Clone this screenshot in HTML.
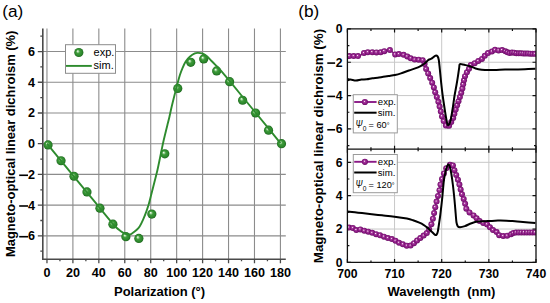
<!DOCTYPE html>
<html><head><meta charset="utf-8"><style>
html,body{margin:0;padding:0;background:#fff;}
body{width:550px;height:303px;overflow:hidden;font-family:"Liberation Sans",sans-serif;}
svg{display:block;}
</style></head><body>
<svg width="550" height="303" viewBox="0 0 550 303">
<defs>
<radialGradient id="gball" cx="0.5" cy="0.5" r="0.5" fx="0.36" fy="0.34">
 <stop offset="0" stop-color="#f4fbf2"/>
 <stop offset="0.16" stop-color="#b2dcae"/>
 <stop offset="0.4" stop-color="#3f9c3b"/>
 <stop offset="0.8" stop-color="#2b862b"/>
 <stop offset="1" stop-color="#1d641d"/>
</radialGradient>
<radialGradient id="pball" cx="0.5" cy="0.5" r="0.5" fx="0.4" fy="0.38">
 <stop offset="0" stop-color="#fdf4fb"/>
 <stop offset="0.1" stop-color="#eccbe6"/>
 <stop offset="0.3" stop-color="#a63a9c"/>
 <stop offset="0.7" stop-color="#8c1a86"/>
 <stop offset="1" stop-color="#680c62"/>
</radialGradient>
</defs>
<rect width="550" height="303" fill="#fff"/>
<path d="M46.96,28.5V259.2M72.90,28.5V259.2M98.84,28.5V259.2M124.78,28.5V259.2M150.72,28.5V259.2M176.66,28.5V259.2M202.60,28.5V259.2M228.54,28.5V259.2M254.48,28.5V259.2M280.42,28.5V259.2M42.8,235.86H285.8M42.8,205.14H285.8M42.8,174.42H285.8M42.8,143.70H285.8M42.8,112.98H285.8M42.8,82.26H285.8M42.8,51.54H285.8" stroke="#8c8c8c" stroke-width="1.1" fill="none"/>
<path d="M42.8,28.5V259.2H285.8" stroke="#4a4a4a" stroke-width="1.6" fill="none"/>
<path d="M40.30,251.22H42.8M37.80,235.86H42.8M40.30,220.50H42.8M37.80,205.14H42.8M40.30,189.78H42.8M37.80,174.42H42.8M40.30,159.06H42.8M37.80,143.70H42.8M40.30,128.34H42.8M37.80,112.98H42.8M40.30,97.62H42.8M37.80,82.26H42.8M40.30,66.90H42.8M37.80,51.54H42.8M40.30,36.18H42.8M46.96,259.2V263.20M59.93,259.2V261.20M72.90,259.2V263.20M85.87,259.2V261.20M98.84,259.2V263.20M111.81,259.2V261.20M124.78,259.2V263.20M137.75,259.2V261.20M150.72,259.2V263.20M163.69,259.2V261.20M176.66,259.2V263.20M189.63,259.2V261.20M202.60,259.2V263.20M215.57,259.2V261.20M228.54,259.2V263.20M241.51,259.2V261.20M254.48,259.2V263.20M267.45,259.2V261.20M280.42,259.2V263.20" stroke="#4a4a4a" stroke-width="1.3" fill="none"/>
<text x="35" y="240.36" font-family="Liberation Sans, sans-serif" font-size="12.6" font-weight="bold" text-anchor="end">6</text>
<rect x="19.2" y="235.91" width="8.8" height="1.6" fill="#000"/>
<text x="35" y="209.64" font-family="Liberation Sans, sans-serif" font-size="12.6" font-weight="bold" text-anchor="end">4</text>
<rect x="19.2" y="205.19" width="8.8" height="1.6" fill="#000"/>
<text x="35" y="178.92" font-family="Liberation Sans, sans-serif" font-size="12.6" font-weight="bold" text-anchor="end">2</text>
<rect x="19.2" y="174.47" width="8.8" height="1.6" fill="#000"/>
<text x="35" y="148.20" font-family="Liberation Sans, sans-serif" font-size="12.6" font-weight="bold" text-anchor="end">0</text>
<text x="35" y="117.48" font-family="Liberation Sans, sans-serif" font-size="12.6" font-weight="bold" text-anchor="end">2</text>
<text x="35" y="86.76" font-family="Liberation Sans, sans-serif" font-size="12.6" font-weight="bold" text-anchor="end">4</text>
<text x="35" y="56.04" font-family="Liberation Sans, sans-serif" font-size="12.6" font-weight="bold" text-anchor="end">6</text>
<text x="46.96" y="276.6" font-family="Liberation Sans, sans-serif" font-size="12.6" font-weight="bold" text-anchor="middle">0</text>
<text x="72.90" y="276.6" font-family="Liberation Sans, sans-serif" font-size="12.6" font-weight="bold" text-anchor="middle">20</text>
<text x="98.84" y="276.6" font-family="Liberation Sans, sans-serif" font-size="12.6" font-weight="bold" text-anchor="middle">40</text>
<text x="124.78" y="276.6" font-family="Liberation Sans, sans-serif" font-size="12.6" font-weight="bold" text-anchor="middle">60</text>
<text x="150.72" y="276.6" font-family="Liberation Sans, sans-serif" font-size="12.6" font-weight="bold" text-anchor="middle">80</text>
<text x="176.66" y="276.6" font-family="Liberation Sans, sans-serif" font-size="12.6" font-weight="bold" text-anchor="middle">100</text>
<text x="202.60" y="276.6" font-family="Liberation Sans, sans-serif" font-size="12.6" font-weight="bold" text-anchor="middle">120</text>
<text x="228.54" y="276.6" font-family="Liberation Sans, sans-serif" font-size="12.6" font-weight="bold" text-anchor="middle">140</text>
<text x="254.48" y="276.6" font-family="Liberation Sans, sans-serif" font-size="12.6" font-weight="bold" text-anchor="middle">160</text>
<text x="280.42" y="276.6" font-family="Liberation Sans, sans-serif" font-size="12.6" font-weight="bold" text-anchor="middle">180</text>
<text x="114" y="295.6" font-family="Liberation Sans, sans-serif" font-size="13" font-weight="bold">Polarization (°)</text>
<text transform="translate(15.1,143.8) rotate(-90)" x="0" y="0" font-family="Liberation Sans, sans-serif" font-size="12.95" font-weight="bold" text-anchor="middle">Magneto-optical linear dichroism (%)</text>
<text x="2.2" y="17.0" font-family="Liberation Sans, sans-serif" font-size="17.2">(a)</text>
<circle cx="48.06" cy="144.93" r="4.6" fill="url(#gball)"/>
<circle cx="61.03" cy="160.75" r="4.6" fill="url(#gball)"/>
<circle cx="74.00" cy="176.26" r="4.6" fill="url(#gball)"/>
<circle cx="86.97" cy="191.93" r="4.6" fill="url(#gball)"/>
<circle cx="99.94" cy="208.21" r="4.6" fill="url(#gball)"/>
<circle cx="112.91" cy="224.19" r="4.6" fill="url(#gball)"/>
<circle cx="125.88" cy="236.63" r="4.6" fill="url(#gball)"/>
<circle cx="138.85" cy="238.47" r="4.6" fill="url(#gball)"/>
<circle cx="151.82" cy="214.05" r="4.6" fill="url(#gball)"/>
<circle cx="164.79" cy="153.84" r="4.6" fill="url(#gball)"/>
<circle cx="177.76" cy="88.40" r="4.6" fill="url(#gball)"/>
<circle cx="190.73" cy="62.29" r="4.6" fill="url(#gball)"/>
<circle cx="203.70" cy="58.91" r="4.6" fill="url(#gball)"/>
<circle cx="216.67" cy="70.89" r="4.6" fill="url(#gball)"/>
<circle cx="229.64" cy="81.65" r="4.6" fill="url(#gball)"/>
<circle cx="242.61" cy="100.23" r="4.6" fill="url(#gball)"/>
<circle cx="255.58" cy="112.98" r="4.6" fill="url(#gball)"/>
<circle cx="268.55" cy="130.18" r="4.6" fill="url(#gball)"/>
<circle cx="281.52" cy="143.70" r="4.6" fill="url(#gball)"/>
<path d="M47.00,143.70 C49.33,146.55 56.33,155.12 61.00,160.80 C65.67,166.48 70.67,172.53 75.00,177.80 C79.33,183.07 82.92,187.43 87.00,192.40 C91.08,197.37 95.33,202.53 99.50,207.60 C103.67,212.67 109.25,219.52 112.00,222.80 C114.75,226.08 114.67,226.00 116.00,227.30 C117.33,228.60 118.52,229.55 120.00,230.60 C121.48,231.65 123.30,232.95 124.90,233.60 C126.50,234.25 128.37,234.57 129.60,234.50 C130.83,234.43 131.15,233.95 132.30,233.20 C133.45,232.45 135.25,231.17 136.50,230.00 C137.75,228.83 138.70,227.93 139.80,226.20 C140.90,224.47 142.00,222.08 143.10,219.60 C144.20,217.12 145.45,213.90 146.40,211.30 C147.35,208.70 148.03,206.63 148.80,204.00 C149.57,201.37 150.10,199.00 151.00,195.50 C151.90,192.00 153.13,187.22 154.20,183.00 C155.27,178.78 156.50,174.07 157.40,170.20 C158.30,166.33 158.90,163.17 159.60,159.80 C160.30,156.43 160.98,152.97 161.60,150.00 C162.22,147.03 162.70,144.67 163.30,142.00 C163.90,139.33 164.53,136.77 165.20,134.00 C165.87,131.23 166.60,128.23 167.30,125.40 C168.00,122.57 168.68,120.07 169.40,117.00 C170.12,113.93 170.78,110.50 171.60,107.00 C172.42,103.50 173.33,99.83 174.30,96.00 C175.27,92.17 176.47,87.50 177.40,84.00 C178.33,80.50 179.07,77.62 179.90,75.00 C180.73,72.38 181.43,70.55 182.40,68.30 C183.37,66.05 184.47,63.42 185.70,61.50 C186.93,59.58 188.28,58.15 189.80,56.80 C191.32,55.45 193.42,54.05 194.80,53.40 C196.18,52.75 196.87,52.90 198.10,52.90 C199.33,52.90 200.83,52.92 202.20,53.40 C203.57,53.88 204.78,54.58 206.30,55.80 C207.82,57.02 209.78,59.20 211.30,60.70 C212.82,62.20 213.95,63.32 215.40,64.80 C216.85,66.28 217.43,66.67 220.00,69.60 C222.57,72.53 227.02,77.83 230.80,82.40 C234.58,86.97 238.52,91.90 242.70,97.00 C246.88,102.10 251.60,107.77 255.90,113.00 C260.20,118.23 264.42,123.37 268.50,128.40 C272.58,133.43 278.42,140.73 280.40,143.20" stroke="#2e8b2e" stroke-width="1.9" fill="none" stroke-linejoin="round"/>
<rect x="65.5" y="44.7" width="50" height="28.6" fill="#fff" stroke="#8c8c8c" stroke-width="1"/>
<circle cx="78.8" cy="52.5" r="4.6" fill="url(#gball)"/>
<path d="M66,65.9H91.8" stroke="#2e8b2e" stroke-width="1.9"/>
<text x="93.6" y="56.2" font-family="Liberation Sans, sans-serif" font-size="11">exp.</text>
<text x="93.6" y="69.2" font-family="Liberation Sans, sans-serif" font-size="11">sim.</text>
<path d="M394.55,28.9V262.4M441.70,28.9V262.4M488.85,28.9V262.4M347.4,62.24H536.0M347.4,95.58H536.0M347.4,128.92H536.0M347.4,229.04H536.0M347.4,195.68H536.0M347.4,162.32H536.0" stroke="#c8c8c8" stroke-width="1" fill="none"/>
<path d="M347.4,28.90h3.5M536.0,28.90h-3.5M347.4,45.57h2M536.0,45.57h-2M347.4,62.24h3.5M536.0,62.24h-3.5M347.4,78.91h2M536.0,78.91h-2M347.4,95.58h3.5M536.0,95.58h-3.5M347.4,112.25h2M536.0,112.25h-2M347.4,128.92h3.5M536.0,128.92h-3.5M347.4,145.59h2M536.0,145.59h-2M347.4,262.40h3.5M536.0,262.40h-3.5M347.4,245.72h2M536.0,245.72h-2M347.4,229.04h3.5M536.0,229.04h-3.5M347.4,212.36h2M536.0,212.36h-2M347.4,195.68h3.5M536.0,195.68h-3.5M347.4,179.00h2M536.0,179.00h-2M347.4,162.32h3.5M536.0,162.32h-3.5M347.40,28.9v3.5M347.40,149.2v-3.5M347.40,149.2v3.5M347.40,262.4v-3.5M370.97,28.9v2M370.97,149.2v-2M370.97,149.2v2M370.97,262.4v-2M394.55,28.9v3.5M394.55,149.2v-3.5M394.55,149.2v3.5M394.55,262.4v-3.5M418.12,28.9v2M418.12,149.2v-2M418.12,149.2v2M418.12,262.4v-2M441.70,28.9v3.5M441.70,149.2v-3.5M441.70,149.2v3.5M441.70,262.4v-3.5M465.27,28.9v2M465.27,149.2v-2M465.27,149.2v2M465.27,262.4v-2M488.85,28.9v3.5M488.85,149.2v-3.5M488.85,149.2v3.5M488.85,262.4v-3.5M512.42,28.9v2M512.42,149.2v-2M512.42,149.2v2M512.42,262.4v-2M536.00,28.9v3.5M536.00,149.2v-3.5M536.00,149.2v3.5M536.00,262.4v-3.5" stroke="#111" stroke-width="1.2" fill="none"/>
<clipPath id="cT"><rect x="347.4" y="28.9" width="188.6" height="120.3"/></clipPath>
<clipPath id="cB"><rect x="347.4" y="149.2" width="188.6" height="113.2"/></clipPath>
<g clip-path="url(#cT)">
<path d="M349.80,56.10 C351.17,56.10 356.05,56.35 358.00,56.10 C359.95,55.85 360.48,55.12 361.50,54.60 C362.52,54.08 362.98,53.43 364.10,53.00 C365.22,52.57 366.10,52.12 368.20,52.00 C370.30,51.88 374.53,52.22 376.70,52.30 C378.87,52.38 379.88,52.67 381.20,52.50 C382.52,52.33 383.10,51.70 384.60,51.30 C386.10,50.90 388.83,49.92 390.20,50.10 C391.57,50.28 392.00,51.70 392.80,52.40 C393.60,53.10 393.95,54.02 395.00,54.30 C396.05,54.58 397.57,53.98 399.10,54.10 C400.63,54.22 402.80,54.57 404.20,55.00 C405.60,55.43 406.43,56.13 407.50,56.70 C408.57,57.27 409.42,57.92 410.60,58.40 C411.78,58.88 413.25,59.38 414.60,59.60 C415.95,59.82 417.35,59.58 418.70,59.70 C420.05,59.82 421.72,59.55 422.70,60.30 C423.68,61.05 424.00,62.68 424.60,64.20 C425.20,65.72 425.65,67.73 426.30,69.40 C426.95,71.07 427.75,72.52 428.50,74.20 C429.25,75.88 430.02,77.70 430.80,79.50 C431.58,81.30 432.50,82.98 433.20,85.00 C433.90,87.02 434.42,89.67 435.00,91.60 C435.58,93.53 436.15,94.95 436.70,96.60 C437.25,98.25 437.82,99.85 438.30,101.50 C438.78,103.15 439.18,104.85 439.60,106.50 C440.02,108.15 440.33,109.48 440.80,111.40 C441.27,113.32 441.85,116.22 442.40,118.00 C442.95,119.78 443.40,120.60 444.10,122.10 C444.80,123.60 445.92,126.12 446.60,127.00 C447.28,127.88 447.52,128.07 448.20,127.40 C448.88,126.73 449.87,124.57 450.70,123.00 C451.53,121.43 452.52,119.80 453.20,118.00 C453.88,116.20 454.12,114.40 454.80,112.20 C455.48,110.00 456.62,106.85 457.30,104.80 C457.98,102.75 458.35,101.55 458.90,99.90 C459.45,98.25 460.05,96.63 460.60,94.90 C461.15,93.17 461.70,91.65 462.20,89.50 C462.70,87.35 463.17,84.15 463.60,82.00 C464.03,79.85 464.28,78.15 464.80,76.60 C465.32,75.05 466.05,73.90 466.70,72.70 C467.35,71.50 468.03,70.68 468.70,69.40 C469.37,68.12 469.70,66.03 470.70,65.00 C471.70,63.97 473.38,63.90 474.70,63.20 C476.02,62.50 477.28,61.58 478.60,60.80 C479.92,60.02 481.63,59.27 482.60,58.50 C483.57,57.73 483.60,57.07 484.40,56.20 C485.20,55.33 486.35,53.97 487.40,53.30 C488.45,52.63 489.47,52.78 490.70,52.20 C491.93,51.62 493.43,50.08 494.80,49.80 C496.17,49.52 497.52,50.47 498.90,50.50 C500.28,50.53 501.85,49.78 503.10,50.00 C504.35,50.22 505.30,51.28 506.40,51.80 C507.50,52.32 508.60,53.02 509.70,53.10 C510.80,53.18 511.92,52.28 513.00,52.30 C514.08,52.32 514.70,53.02 516.20,53.20 C517.70,53.38 519.87,53.33 522.00,53.40 C524.13,53.47 526.58,53.52 529.00,53.60 C531.42,53.68 535.25,53.85 536.50,53.90" stroke="#8a1a86" stroke-width="1.4" fill="none"/>
<circle cx="349.40" cy="56.10" r="3.0" fill="url(#pball)"/>
<circle cx="353.70" cy="56.10" r="3.0" fill="url(#pball)"/>
<circle cx="358.00" cy="56.10" r="3.0" fill="url(#pball)"/>
<circle cx="364.00" cy="53.00" r="3.0" fill="url(#pball)"/>
<circle cx="367.80" cy="52.20" r="3.0" fill="url(#pball)"/>
<circle cx="372.30" cy="52.20" r="3.0" fill="url(#pball)"/>
<circle cx="376.50" cy="52.40" r="3.0" fill="url(#pball)"/>
<circle cx="380.70" cy="52.30" r="3.0" fill="url(#pball)"/>
<circle cx="384.30" cy="51.20" r="3.0" fill="url(#pball)"/>
<circle cx="389.90" cy="50.00" r="3.0" fill="url(#pball)"/>
<circle cx="395.20" cy="54.50" r="3.0" fill="url(#pball)"/>
<circle cx="398.90" cy="54.10" r="3.0" fill="url(#pball)"/>
<circle cx="403.60" cy="54.80" r="3.0" fill="url(#pball)"/>
<circle cx="407.30" cy="56.50" r="3.0" fill="url(#pball)"/>
<circle cx="410.70" cy="58.30" r="3.0" fill="url(#pball)"/>
<circle cx="414.60" cy="59.60" r="3.0" fill="url(#pball)"/>
<circle cx="418.70" cy="59.70" r="3.0" fill="url(#pball)"/>
<circle cx="422.70" cy="60.30" r="3.0" fill="url(#pball)"/>
<circle cx="424.56" cy="64.11" r="3.0" fill="url(#pball)"/>
<circle cx="426.13" cy="68.88" r="3.0" fill="url(#pball)"/>
<circle cx="428.16" cy="73.47" r="3.0" fill="url(#pball)"/>
<circle cx="430.18" cy="78.07" r="3.0" fill="url(#pball)"/>
<circle cx="432.18" cy="82.66" r="3.0" fill="url(#pball)"/>
<circle cx="433.85" cy="87.38" r="3.0" fill="url(#pball)"/>
<circle cx="435.21" cy="92.22" r="3.0" fill="url(#pball)"/>
<circle cx="436.82" cy="96.98" r="3.0" fill="url(#pball)"/>
<circle cx="438.36" cy="101.74" r="3.0" fill="url(#pball)"/>
<circle cx="439.62" cy="106.60" r="3.0" fill="url(#pball)"/>
<circle cx="440.82" cy="111.50" r="3.0" fill="url(#pball)"/>
<circle cx="442.01" cy="116.39" r="3.0" fill="url(#pball)"/>
<circle cx="443.69" cy="121.12" r="3.0" fill="url(#pball)"/>
<circle cx="445.90" cy="125.62" r="3.0" fill="url(#pball)"/>
<circle cx="449.09" cy="125.83" r="3.0" fill="url(#pball)"/>
<circle cx="451.22" cy="121.96" r="3.0" fill="url(#pball)"/>
<circle cx="453.20" cy="118.00" r="3.0" fill="url(#pball)"/>
<circle cx="454.37" cy="113.75" r="3.0" fill="url(#pball)"/>
<circle cx="455.70" cy="109.54" r="3.0" fill="url(#pball)"/>
<circle cx="457.11" cy="105.37" r="3.0" fill="url(#pball)"/>
<circle cx="458.48" cy="101.18" r="3.0" fill="url(#pball)"/>
<circle cx="459.89" cy="97.00" r="3.0" fill="url(#pball)"/>
<circle cx="461.23" cy="92.78" r="3.0" fill="url(#pball)"/>
<circle cx="462.38" cy="88.51" r="3.0" fill="url(#pball)"/>
<circle cx="463.16" cy="84.37" r="3.0" fill="url(#pball)"/>
<circle cx="463.99" cy="80.23" r="3.0" fill="url(#pball)"/>
<circle cx="465.02" cy="76.15" r="3.0" fill="url(#pball)"/>
<circle cx="466.91" cy="72.36" r="3.0" fill="url(#pball)"/>
<circle cx="469.01" cy="68.71" r="3.0" fill="url(#pball)"/>
<circle cx="470.84" cy="64.94" r="3.0" fill="url(#pball)"/>
<circle cx="474.70" cy="63.20" r="3.0" fill="url(#pball)"/>
<circle cx="478.30" cy="60.98" r="3.0" fill="url(#pball)"/>
<circle cx="481.95" cy="58.88" r="3.0" fill="url(#pball)"/>
<circle cx="484.80" cy="55.82" r="3.0" fill="url(#pball)"/>
<circle cx="487.97" cy="53.11" r="3.0" fill="url(#pball)"/>
<circle cx="491.87" cy="51.52" r="3.0" fill="url(#pball)"/>
<circle cx="495.00" cy="49.83" r="3.0" fill="url(#pball)"/>
<circle cx="498.55" cy="50.44" r="3.0" fill="url(#pball)"/>
<circle cx="502.15" cy="50.11" r="3.0" fill="url(#pball)"/>
<circle cx="505.43" cy="51.27" r="3.0" fill="url(#pball)"/>
<circle cx="507.53" cy="52.25" r="3.0" fill="url(#pball)"/>
<circle cx="509.70" cy="53.10" r="3.0" fill="url(#pball)"/>
<circle cx="511.97" cy="52.55" r="3.0" fill="url(#pball)"/>
<circle cx="514.21" cy="52.64" r="3.0" fill="url(#pball)"/>
<circle cx="516.45" cy="53.21" r="3.0" fill="url(#pball)"/>
<circle cx="518.75" cy="53.29" r="3.0" fill="url(#pball)"/>
<circle cx="521.05" cy="53.37" r="3.0" fill="url(#pball)"/>
<circle cx="523.35" cy="53.44" r="3.0" fill="url(#pball)"/>
<circle cx="525.65" cy="53.50" r="3.0" fill="url(#pball)"/>
<circle cx="527.95" cy="53.57" r="3.0" fill="url(#pball)"/>
<circle cx="530.25" cy="53.65" r="3.0" fill="url(#pball)"/>
<circle cx="532.55" cy="53.74" r="3.0" fill="url(#pball)"/>
<circle cx="534.85" cy="53.83" r="3.0" fill="url(#pball)"/>
<path d="M347.70,80.20 C348.17,80.08 349.13,79.45 350.50,79.50 C351.87,79.55 354.08,80.48 355.90,80.50 C357.72,80.52 359.58,79.80 361.40,79.60 C363.22,79.40 364.98,79.53 366.80,79.30 C368.62,79.07 370.48,78.47 372.30,78.20 C374.12,77.93 375.88,77.93 377.70,77.70 C379.52,77.47 381.38,77.08 383.20,76.80 C385.02,76.52 386.63,76.30 388.60,76.00 C390.57,75.70 392.93,75.43 395.00,75.00 C397.07,74.57 398.68,74.15 401.00,73.40 C403.32,72.65 406.05,71.52 408.90,70.50 C411.75,69.48 415.60,68.38 418.10,67.30 C420.60,66.22 422.17,65.23 423.90,64.00 C425.63,62.77 427.23,60.78 428.50,59.90 C429.77,59.02 430.32,59.42 431.50,58.70 C432.68,57.98 434.58,55.98 435.60,55.60 C436.62,55.22 437.07,55.67 437.60,56.40 C438.13,57.13 438.43,57.90 438.80,60.00 C439.17,62.10 439.40,65.17 439.80,69.00 C440.20,72.83 440.73,78.67 441.20,83.00 C441.67,87.33 442.00,90.53 442.60,95.00 C443.20,99.47 444.13,105.55 444.80,109.80 C445.47,114.05 446.08,117.90 446.60,120.50 C447.12,123.10 447.28,125.23 447.90,125.40 C448.52,125.57 449.53,124.15 450.30,121.50 C451.07,118.85 451.80,113.75 452.50,109.50 C453.20,105.25 453.83,100.08 454.50,96.00 C455.17,91.92 455.92,88.37 456.50,85.00 C457.08,81.63 457.55,78.70 458.00,75.80 C458.45,72.90 458.92,69.50 459.20,67.60 C459.48,65.70 459.28,64.97 459.70,64.40 C460.12,63.83 460.72,64.08 461.70,64.20 C462.68,64.32 464.22,64.77 465.60,65.10 C466.98,65.43 468.33,65.63 470.00,66.20 C471.67,66.77 473.67,67.92 475.60,68.50 C477.53,69.08 479.28,69.43 481.60,69.70 C483.92,69.97 487.02,70.07 489.50,70.10 C491.98,70.13 493.92,69.98 496.50,69.90 C499.08,69.82 502.25,69.65 505.00,69.60 C507.75,69.55 509.67,69.67 513.00,69.60 C516.33,69.53 521.27,69.35 525.00,69.20 C528.73,69.05 533.67,68.78 535.40,68.70" stroke="#000" stroke-width="2" fill="none" stroke-linejoin="round"/>
</g>
<g clip-path="url(#cB)">
<path d="M349.00,227.60 C349.48,227.55 350.75,226.88 351.90,227.30 C353.05,227.72 354.57,229.77 355.90,230.10 C357.23,230.43 358.58,229.22 359.90,229.30 C361.22,229.38 362.15,230.15 363.80,230.60 C365.45,231.05 368.15,231.55 369.80,232.00 C371.45,232.45 372.38,232.85 373.70,233.30 C375.02,233.75 376.38,234.28 377.70,234.70 C379.02,235.12 380.28,235.38 381.60,235.80 C382.92,236.22 384.27,236.72 385.60,237.20 C386.93,237.68 388.28,238.35 389.60,238.70 C390.92,239.05 392.18,238.73 393.50,239.30 C394.82,239.87 396.18,241.35 397.50,242.10 C398.82,242.85 400.08,243.27 401.40,243.80 C402.72,244.33 404.07,244.87 405.40,245.30 C406.73,245.73 408.13,246.62 409.40,246.40 C410.67,246.18 411.73,244.97 413.00,244.00 C414.27,243.03 415.67,241.68 417.00,240.60 C418.33,239.52 419.75,238.43 421.00,237.50 C422.25,236.57 423.42,235.87 424.50,235.00 C425.58,234.13 426.58,233.42 427.50,232.30 C428.42,231.18 429.33,229.68 430.00,228.30 C430.67,226.92 431.03,225.55 431.50,224.00 C431.97,222.45 432.38,220.75 432.80,219.00 C433.22,217.25 433.58,215.50 434.00,213.50 C434.42,211.50 434.85,209.08 435.30,207.00 C435.75,204.92 436.23,202.92 436.70,201.00 C437.17,199.08 437.63,197.28 438.10,195.50 C438.57,193.72 439.08,192.22 439.50,190.30 C439.92,188.38 440.22,185.80 440.60,184.00 C440.98,182.20 441.38,180.92 441.80,179.50 C442.22,178.08 442.62,176.83 443.10,175.50 C443.58,174.17 444.17,172.75 444.70,171.50 C445.23,170.25 445.55,169.03 446.30,168.00 C447.05,166.97 448.20,166.08 449.20,165.30 C450.20,164.52 451.57,162.93 452.30,163.30 C453.03,163.67 453.17,166.08 453.60,167.50 C454.03,168.92 454.37,170.33 454.90,171.80 C455.43,173.27 456.23,174.82 456.80,176.30 C457.37,177.78 457.85,179.28 458.30,180.70 C458.75,182.12 459.12,183.38 459.50,184.80 C459.88,186.22 460.12,187.37 460.60,189.20 C461.08,191.03 461.82,194.02 462.40,195.80 C462.98,197.58 463.63,198.53 464.10,199.90 C464.57,201.27 464.83,202.55 465.20,204.00 C465.57,205.45 465.85,207.43 466.30,208.60 C466.75,209.77 467.30,210.30 467.90,211.00 C468.50,211.70 469.17,212.23 469.90,212.80 C470.63,213.37 471.48,213.80 472.30,214.40 C473.12,215.00 473.97,215.65 474.80,216.40 C475.63,217.15 476.47,218.08 477.30,218.90 C478.13,219.72 478.98,220.68 479.80,221.30 C480.62,221.92 481.38,222.27 482.20,222.60 C483.02,222.93 483.78,222.95 484.70,223.30 C485.62,223.65 486.87,224.08 487.70,224.70 C488.53,225.32 489.05,226.25 489.70,227.00 C490.35,227.75 490.87,228.60 491.60,229.20 C492.33,229.80 493.18,230.08 494.10,230.60 C495.02,231.12 496.23,231.52 497.10,232.30 C497.97,233.08 498.00,234.63 499.30,235.30 C500.60,235.97 503.15,236.35 504.90,236.30 C506.65,236.25 508.30,235.62 509.80,235.00 C511.30,234.38 512.20,233.03 513.90,232.60 C515.60,232.17 517.65,232.43 520.00,232.40 C522.35,232.37 525.25,232.40 528.00,232.40 C530.75,232.40 535.08,232.40 536.50,232.40" stroke="#8a1a86" stroke-width="1.4" fill="none"/>
<circle cx="349.00" cy="227.60" r="3.0" fill="url(#pball)"/>
<circle cx="352.89" cy="227.99" r="3.0" fill="url(#pball)"/>
<circle cx="356.34" cy="230.01" r="3.0" fill="url(#pball)"/>
<circle cx="360.38" cy="229.46" r="3.0" fill="url(#pball)"/>
<circle cx="364.29" cy="230.71" r="3.0" fill="url(#pball)"/>
<circle cx="368.29" cy="231.65" r="3.0" fill="url(#pball)"/>
<circle cx="372.23" cy="232.81" r="3.0" fill="url(#pball)"/>
<circle cx="376.13" cy="234.15" r="3.0" fill="url(#pball)"/>
<circle cx="380.06" cy="235.37" r="3.0" fill="url(#pball)"/>
<circle cx="383.98" cy="236.63" r="3.0" fill="url(#pball)"/>
<circle cx="387.86" cy="238.05" r="3.0" fill="url(#pball)"/>
<circle cx="391.85" cy="239.05" r="3.0" fill="url(#pball)"/>
<circle cx="395.52" cy="240.71" r="3.0" fill="url(#pball)"/>
<circle cx="399.06" cy="242.78" r="3.0" fill="url(#pball)"/>
<circle cx="402.86" cy="244.35" r="3.0" fill="url(#pball)"/>
<circle cx="406.77" cy="245.68" r="3.0" fill="url(#pball)"/>
<circle cx="410.57" cy="245.62" r="3.0" fill="url(#pball)"/>
<circle cx="413.92" cy="243.22" r="3.0" fill="url(#pball)"/>
<circle cx="417.08" cy="240.54" r="3.0" fill="url(#pball)"/>
<circle cx="420.33" cy="238.02" r="3.0" fill="url(#pball)"/>
<circle cx="423.65" cy="235.61" r="3.0" fill="url(#pball)"/>
<circle cx="426.79" cy="232.94" r="3.0" fill="url(#pball)"/>
<circle cx="429.18" cy="229.62" r="3.0" fill="url(#pball)"/>
<circle cx="431.40" cy="224.28" r="3.0" fill="url(#pball)"/>
<circle cx="432.88" cy="218.66" r="3.0" fill="url(#pball)"/>
<circle cx="434.11" cy="212.96" r="3.0" fill="url(#pball)"/>
<circle cx="435.25" cy="207.25" r="3.0" fill="url(#pball)"/>
<circle cx="436.56" cy="201.59" r="3.0" fill="url(#pball)"/>
<circle cx="437.99" cy="195.94" r="3.0" fill="url(#pball)"/>
<circle cx="439.50" cy="190.30" r="3.0" fill="url(#pball)"/>
<circle cx="440.50" cy="184.55" r="3.0" fill="url(#pball)"/>
<circle cx="441.99" cy="178.93" r="3.0" fill="url(#pball)"/>
<circle cx="443.92" cy="173.45" r="3.0" fill="url(#pball)"/>
<circle cx="446.24" cy="168.14" r="3.0" fill="url(#pball)"/>
<circle cx="449.96" cy="164.81" r="3.0" fill="url(#pball)"/>
<circle cx="452.96" cy="165.42" r="3.0" fill="url(#pball)"/>
<circle cx="454.43" cy="170.25" r="3.0" fill="url(#pball)"/>
<circle cx="456.23" cy="174.95" r="3.0" fill="url(#pball)"/>
<circle cx="457.96" cy="179.70" r="3.0" fill="url(#pball)"/>
<circle cx="459.42" cy="184.51" r="3.0" fill="url(#pball)"/>
<circle cx="460.65" cy="189.39" r="3.0" fill="url(#pball)"/>
<circle cx="461.98" cy="194.25" r="3.0" fill="url(#pball)"/>
<circle cx="463.71" cy="198.97" r="3.0" fill="url(#pball)"/>
<circle cx="465.13" cy="203.76" r="3.0" fill="url(#pball)"/>
<circle cx="466.33" cy="208.64" r="3.0" fill="url(#pball)"/>
<circle cx="469.52" cy="212.46" r="3.0" fill="url(#pball)"/>
<circle cx="473.59" cy="215.43" r="3.0" fill="url(#pball)"/>
<circle cx="476.62" cy="218.22" r="3.0" fill="url(#pball)"/>
<circle cx="479.58" cy="221.09" r="3.0" fill="url(#pball)"/>
<circle cx="483.28" cy="222.90" r="3.0" fill="url(#pball)"/>
<circle cx="487.11" cy="224.42" r="3.0" fill="url(#pball)"/>
<circle cx="489.96" cy="227.30" r="3.0" fill="url(#pball)"/>
<circle cx="493.00" cy="229.99" r="3.0" fill="url(#pball)"/>
<circle cx="496.61" cy="232.03" r="3.0" fill="url(#pball)"/>
<circle cx="499.21" cy="235.18" r="3.0" fill="url(#pball)"/>
<circle cx="503.22" cy="236.00" r="3.0" fill="url(#pball)"/>
<circle cx="507.23" cy="235.68" r="3.0" fill="url(#pball)"/>
<circle cx="511.05" cy="234.27" r="3.0" fill="url(#pball)"/>
<circle cx="513.38" cy="232.90" r="3.0" fill="url(#pball)"/>
<circle cx="516.00" cy="232.53" r="3.0" fill="url(#pball)"/>
<circle cx="518.70" cy="232.44" r="3.0" fill="url(#pball)"/>
<circle cx="521.40" cy="232.40" r="3.0" fill="url(#pball)"/>
<circle cx="524.10" cy="232.40" r="3.0" fill="url(#pball)"/>
<circle cx="526.85" cy="232.40" r="3.0" fill="url(#pball)"/>
<circle cx="529.60" cy="232.40" r="3.0" fill="url(#pball)"/>
<circle cx="532.35" cy="232.40" r="3.0" fill="url(#pball)"/>
<circle cx="535.10" cy="232.40" r="3.0" fill="url(#pball)"/>
<path d="M347.40,211.40 C348.65,211.55 352.47,212.02 354.90,212.30 C357.33,212.58 359.52,212.82 362.00,213.10 C364.48,213.38 366.47,213.63 369.80,214.00 C373.13,214.37 377.88,214.85 382.00,215.30 C386.12,215.75 390.35,216.15 394.50,216.70 C398.65,217.25 403.82,218.02 406.90,218.60 C409.98,219.18 410.93,219.52 413.00,220.20 C415.07,220.88 417.55,221.93 419.30,222.70 C421.05,223.47 422.27,224.07 423.50,224.80 C424.73,225.53 425.72,226.33 426.70,227.10 C427.68,227.87 428.58,228.65 429.40,229.40 C430.22,230.15 430.90,230.90 431.60,231.60 C432.30,232.30 432.98,233.03 433.60,233.60 C434.22,234.17 434.80,234.83 435.30,235.00 C435.80,235.17 436.18,235.17 436.60,234.60 C437.02,234.03 437.40,233.37 437.80,231.60 C438.20,229.83 438.58,226.80 439.00,224.00 C439.42,221.20 439.75,219.23 440.30,214.80 C440.85,210.37 441.72,203.03 442.30,197.40 C442.88,191.77 443.25,185.32 443.80,181.00 C444.35,176.68 445.03,174.00 445.60,171.50 C446.17,169.00 446.73,167.18 447.20,166.00 C447.67,164.82 448.00,164.40 448.40,164.40 C448.80,164.40 449.13,164.57 449.60,166.00 C450.07,167.43 450.65,169.83 451.20,173.00 C451.75,176.17 452.35,180.50 452.90,185.00 C453.45,189.50 454.03,195.17 454.50,200.00 C454.97,204.83 455.37,210.25 455.70,214.00 C456.03,217.75 456.15,220.45 456.50,222.50 C456.85,224.55 457.22,225.52 457.80,226.30 C458.38,227.08 458.82,227.23 460.00,227.20 C461.18,227.17 462.98,226.77 464.90,226.10 C466.82,225.43 469.30,223.97 471.50,223.20 C473.70,222.43 475.35,221.85 478.10,221.50 C480.85,221.15 484.70,221.25 488.00,221.10 C491.30,220.95 494.82,220.67 497.90,220.60 C500.98,220.53 503.65,220.58 506.50,220.70 C509.35,220.82 512.25,221.10 515.00,221.30 C517.75,221.50 519.60,221.60 523.00,221.90 C526.40,222.20 533.33,222.90 535.40,223.10" stroke="#000" stroke-width="2" fill="none" stroke-linejoin="round"/>
</g>
<path d="M347.4,28.9H536.0V262.4H347.4Z M347.4,149.2H536.0" stroke="#111" stroke-width="1.3" fill="none"/>
<rect x="353.3" y="94.70" width="44" height="38.20" fill="#fff" stroke="#9a9a9a" stroke-width="1"/>
<path d="M354.2,102.00H376.6" stroke="#8a1a86" stroke-width="1.9"/>
<circle cx="364.9" cy="102.00" r="3.1" fill="url(#pball)"/>
<text x="377.8" y="104.80" font-family="Liberation Sans, sans-serif" font-size="9.6">exp.</text>
<path d="M354.2,112.70H376.6" stroke="#000" stroke-width="2"/>
<text x="377.8" y="115.80" font-family="Liberation Sans, sans-serif" font-size="9.6">sim.</text>
<text x="355.4" y="128.30" font-family="Liberation Sans, sans-serif" font-size="9.2"><tspan font-style="italic" font-size="10.8" textLength="7.0" lengthAdjust="spacingAndGlyphs">Ψ</tspan><tspan font-size="6.6" dx="0.3" dy="2.4">0</tspan><tspan dy="-2.4" dx="-0.4"> = 60</tspan><tspan font-size="7" dy="-0.6">°</tspan></text>
<rect x="353.3" y="154.50" width="44" height="38.20" fill="#fff" stroke="#9a9a9a" stroke-width="1"/>
<path d="M354.2,161.80H376.6" stroke="#8a1a86" stroke-width="1.9"/>
<circle cx="364.9" cy="161.80" r="3.1" fill="url(#pball)"/>
<text x="377.8" y="164.60" font-family="Liberation Sans, sans-serif" font-size="9.6">exp.</text>
<path d="M354.2,172.50H376.6" stroke="#000" stroke-width="2"/>
<text x="377.8" y="175.60" font-family="Liberation Sans, sans-serif" font-size="9.6">sim.</text>
<text x="355.4" y="188.10" font-family="Liberation Sans, sans-serif" font-size="9.2"><tspan font-style="italic" font-size="10.8" textLength="7.0" lengthAdjust="spacingAndGlyphs">Ψ</tspan><tspan font-size="6.6" dx="0.3" dy="2.4">0</tspan><tspan dy="-2.4" dx="-0.4"> = 120</tspan><tspan font-size="7" dy="-0.6">°</tspan></text>
<text x="342.6" y="33.20" font-family="Liberation Sans, sans-serif" font-size="12.2" font-weight="bold" text-anchor="end">0</text>
<text x="342.6" y="66.54" font-family="Liberation Sans, sans-serif" font-size="12.2" font-weight="bold" text-anchor="end">2</text>
<rect x="327.3" y="62.29" width="7.8" height="1.6" fill="#000"/>
<text x="342.6" y="99.88" font-family="Liberation Sans, sans-serif" font-size="12.2" font-weight="bold" text-anchor="end">4</text>
<rect x="327.3" y="95.63" width="7.8" height="1.6" fill="#000"/>
<text x="342.6" y="133.22" font-family="Liberation Sans, sans-serif" font-size="12.2" font-weight="bold" text-anchor="end">6</text>
<rect x="327.3" y="128.97" width="7.8" height="1.6" fill="#000"/>
<text x="342.6" y="266.70" font-family="Liberation Sans, sans-serif" font-size="12.2" font-weight="bold" text-anchor="end">0</text>
<text x="342.6" y="233.34" font-family="Liberation Sans, sans-serif" font-size="12.2" font-weight="bold" text-anchor="end">2</text>
<text x="342.6" y="199.98" font-family="Liberation Sans, sans-serif" font-size="12.2" font-weight="bold" text-anchor="end">4</text>
<text x="342.6" y="166.62" font-family="Liberation Sans, sans-serif" font-size="12.2" font-weight="bold" text-anchor="end">6</text>
<text x="347.40" y="278.2" font-family="Liberation Sans, sans-serif" font-size="12.2" font-weight="bold" text-anchor="middle">700</text>
<text x="394.55" y="278.2" font-family="Liberation Sans, sans-serif" font-size="12.2" font-weight="bold" text-anchor="middle">710</text>
<text x="441.70" y="278.2" font-family="Liberation Sans, sans-serif" font-size="12.2" font-weight="bold" text-anchor="middle">720</text>
<text x="488.85" y="278.2" font-family="Liberation Sans, sans-serif" font-size="12.2" font-weight="bold" text-anchor="middle">730</text>
<text x="536.00" y="278.2" font-family="Liberation Sans, sans-serif" font-size="12.2" font-weight="bold" text-anchor="middle">740</text>
<text x="387.5" y="295.8" font-family="Liberation Sans, sans-serif" font-size="13" font-weight="bold" style="white-space:pre" xml:space="preserve">Wavelength  (nm)</text>
<text transform="translate(322.9,146.05) rotate(-90)" x="0" y="0" font-family="Liberation Sans, sans-serif" font-size="13.4" font-weight="bold" text-anchor="middle">Magneto-optical linear dichroism (%)</text>
<text x="298.2" y="17.4" font-family="Liberation Sans, sans-serif" font-size="17.2">(b)</text>
</svg>
</body></html>
